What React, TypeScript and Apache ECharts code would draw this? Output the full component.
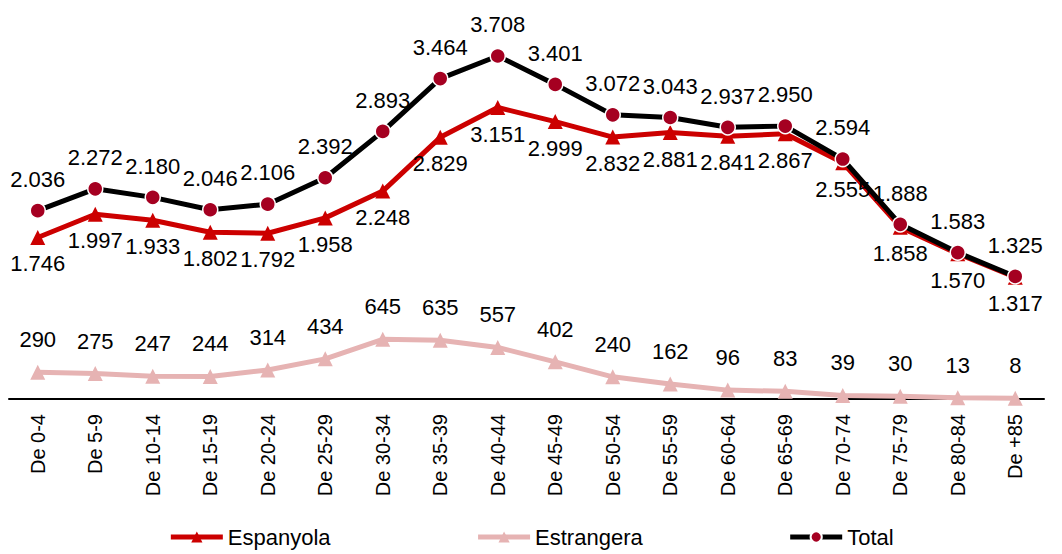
import React, { useEffect, useRef } from "react";
import * as echarts from "echarts";

const categories = ["De 0-4","De 5-9","De 10-14","De 15-19","De 20-24","De 25-29","De 30-34","De 35-39","De 40-44","De 45-49","De 50-54","De 55-59","De 60-64","De 65-69","De 70-74","De 75-79","De 80-84","De +85"];
const espanyola = [1746,1997,1933,1802,1792,1958,2248,2829,3151,2999,2832,2881,2841,2867,2555,1858,1570,1317];
const estrangera = [290,275,247,244,314,434,645,635,557,402,240,162,96,83,39,30,13,8];
const total = [2036,2272,2180,2046,2106,2392,2893,3464,3708,3401,3072,3043,2937,2950,2594,1888,1583,1325];

const fmt = (v: number) => {
  if (v < 1000) return String(v);
  const th = Math.floor(v / 1000);
  const r = v % 1000;
  return th + "." + String(r).padStart(3, "0");
};

const FONT = "Liberation Sans, Arial, sans-serif";

export default function App() {
  const ref = useRef<HTMLDivElement>(null);
  useEffect(() => {
    const chart = echarts.init(ref.current!, undefined, { renderer: "svg" });
    const labelStyle = { show: true, fontFamily: FONT, fontSize: 22, color: "#000", formatter: (p: any) => fmt(p.value) };
    chart.setOption({
      animation: false,
      grid: { left: 9, right: 18, top: 29, bottom: 155, containLabel: false },
      xAxis: {
        type: "category",
        data: categories,
        boundaryGap: true,
        axisLine: { lineStyle: { color: "#000", width: 2 } },
        axisTick: { show: false },
        axisLabel: { rotate: 90, fontFamily: FONT, fontSize: 20, color: "#000", margin: 15, interval: 0 },
      },
      yAxis: { type: "value", min: 0, max: 4000, show: false, splitLine: { show: false } },
      legend: {
        bottom: 1,
        left: "center",
        itemGap: 145,
        itemWidth: 52,
        itemHeight: 14,
        lineStyle: { width: 5 },
        textStyle: { fontFamily: FONT, fontSize: 22, color: "#000" },
        data: ["Espanyola", "Estrangera", "Total"],
      },
      series: [
        {
          name: "Estrangera",
          type: "line",
          data: estrangera,
          symbol: "triangle",
          symbolSize: 15,
          lineStyle: { color: "#E6B3B3", width: 5 },
          itemStyle: { color: "#E6B3B3" },
          label: { ...labelStyle, position: "top", distance: 14 },
          z: 2,
        },
        {
          name: "Espanyola",
          type: "line",
          data: espanyola,
          symbol: "triangle",
          symbolSize: 15,
          lineStyle: { color: "#CC0000", width: 5 },
          itemStyle: { color: "#CC0000" },
          label: { ...labelStyle, position: "bottom", distance: 8 },
          z: 3,
        },
        {
          name: "Total",
          type: "line",
          data: total,
          symbol: "circle",
          symbolSize: 15,
          lineStyle: { color: "#000", width: 5 },
          itemStyle: { color: "#A50021", borderColor: "#fff", borderWidth: 1.5 },
          label: { ...labelStyle, position: "top", distance: 12 },
          z: 4,
        },
      ],
    });
    return () => chart.dispose();
  }, []);
  return <div ref={ref} style={{ width: 1062, height: 554, position: "absolute", left: 0, top: 0 }} />;
}
